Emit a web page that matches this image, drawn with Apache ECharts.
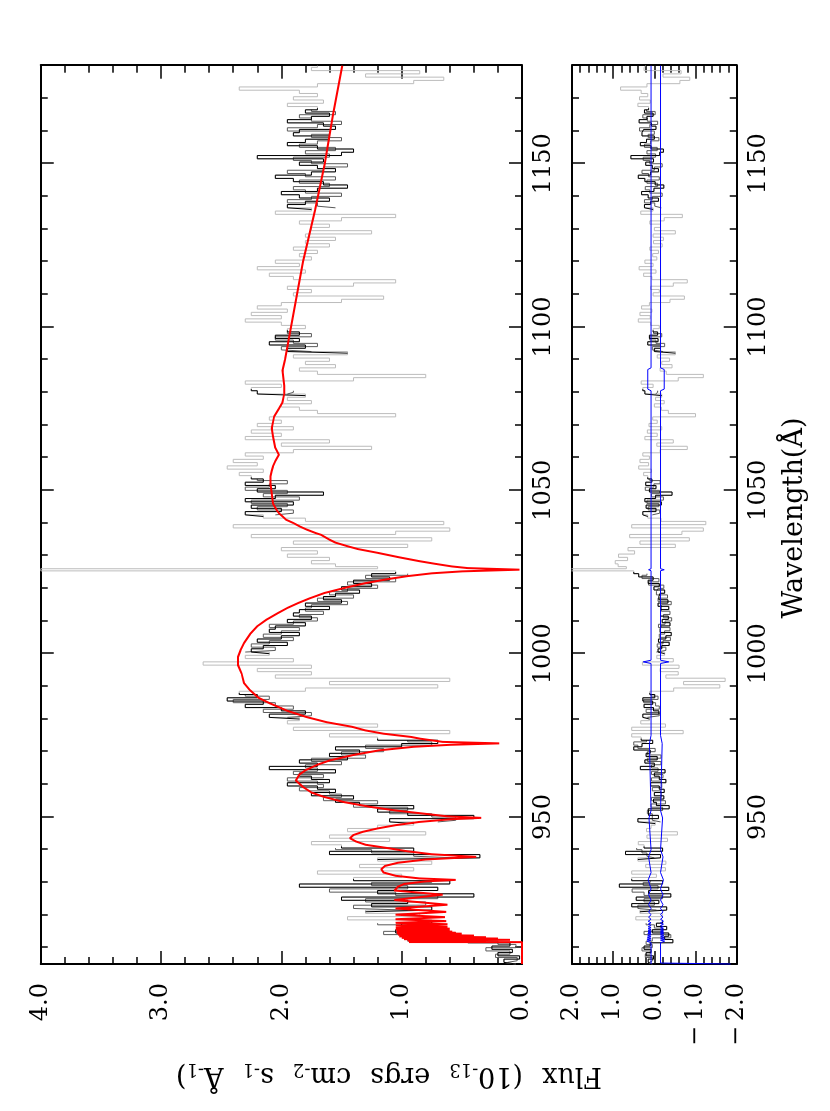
<!DOCTYPE html>
<html>
<head>
<meta charset="utf-8">
<script src="https://cdn.jsdelivr.net/npm/echarts@6/dist/echarts.min.js"></script>
<style>
html,body{margin:0;padding:0;background:#fff;width:830px;height:1111px;overflow:hidden;}
#wrap{position:absolute;left:0;top:0;width:1111px;height:830px;transform-origin:0 0;transform:translateY(1111px) rotate(-90deg);background:#fff;}
</style>
</head>
<body>
<div id="wrap"></div>
<script>
// ---- data (wavelength in Å, flux in 1e-13 erg/cm2/s/Å) ----
const waveMajorTicks = [950, 1000, 1050, 1100, 1150];
const waveMinorTicks = [910,920,930,940,960,970,980,990,1010,1020,1030,1040,1060,1070,1080,1090,1110,1120,1130,1140,1160,1170];

// observed spectrum (whole range)
const fluxData = [
[905,0.05],[906,0.15],[907,0.02],[908,0.20],[909,0.08],[910,0.25],[911,0.10],[912,0.45],[913,0.75],[914,0.55],
[915,1.05],[916,0.70],[917,1.00],[918,0.75],[919,1.45],[920,0.85],[921,1.30],[922,0.75],[923,1.25],[924,0.95],
[925,1.50],[926,0.40],[927,1.20],[928,0.70],[929,1.85],[930,0.60],[931,1.40],[932,1.00],[933,1.70],[934,0.90],
[935,1.35],[936,0.75],[937,1.20],[938,0.35],[939,1.60],[940,0.90],[941,1.50],[942,1.75],[943,1.10],[944,1.60],
[945,0.80],[946,1.45],[947,1.20],[948,0.90],[949,1.10],[950,0.40],[951,0.95],[952,1.20],[953,0.90],[954,1.35],
[955,1.55],[956,1.40],[957,1.75],[958,1.55],[959,1.70],[960,1.95],[961,1.60],[962,1.75],[963,1.85],[964,1.55],
[965,2.10],[966,1.70],[967,1.85],[968,1.45],[969,1.60],[970,1.35],[971,1.55],[972,1.00],[973,0.70],[974,1.20],
[975,1.60],[976,0.60],[977,1.90],[978,1.20],[979,1.95],[980,1.85],[981,2.10],[982,1.80],[983,2.00],[984,2.30],
[985,2.15],[986,2.45],[987,2.20],[988,2.35],[989,1.80],[990,0.70],[991,1.60],[992,0.60],[993,2.05],[994,1.75],
[995,2.20],[996,1.75],[997,2.65],[998,1.90],[999,2.30],[1000,2.10],[1001,2.25],[1002,2.15],[1003,1.95],[1004,2.20],
[1005,2.00],[1006,1.85],[1007,2.10],[1008,2.05],[1009,1.80],[1010,1.95],[1011,1.75],[1012,1.90],[1013,1.85],[1014,1.60],
[1015,1.80],[1016,1.50],[1017,1.65],[1018,1.55],[1019,1.35],[1020,1.50],[1021,1.25],[1022,1.40],[1023,1.10],[1024,1.25],
[1025,1.05],[1025.7,4.00],[1026.3,1.20],[1027,1.55],[1028,1.75],[1029,1.60],[1030,1.95],[1031,1.70],[1032,2.00],[1033,0.95],
[1034,1.90],[1035,0.75],[1036,2.25],[1037,1.05],[1038,0.60],[1039,2.40],[1040,0.65],[1041,1.80],[1042,2.15],[1043,2.30],
[1044,2.00],[1045,2.25],[1046,1.90],[1047,2.30],[1048,2.05],[1049,1.65],[1050,2.20],[1051,2.05],[1052,2.30],[1053,2.15],
[1054,2.25],[1055,2.35],[1056,2.15],[1057,2.45],[1058,2.20],[1059,2.40],[1060,2.15],[1061,2.30],[1062,1.90],[1063,1.25],
[1064,2.00],[1065,1.60],[1066,2.30],[1067,2.00],[1068,2.25],[1069,1.90],[1070,2.20],[1071,2.00],[1072,2.10],[1073,1.05],
[1074,1.70],[1075,1.85],[1076,2.00],[1077,1.75],[1078,1.95],[1079,1.80],[1080,2.20],[1081,2.25],[1082,2.00],[1083,2.30],
[1084,1.40],[1085,0.80],[1086,1.70],[1087,1.85],[1088,1.55],[1089,1.80],[1090,1.60],[1091,1.90],[1092,1.45],[1093,1.95],
[1094,1.80],[1095,2.10],[1096,1.85],[1097,2.05],[1098,1.85],[1099,1.95],[1100,1.80],[1101,2.00],[1102,2.30],[1103,2.00],
[1104,2.25],[1105,1.95],[1106,2.20],[1107,2.00],[1108,1.50],[1109,1.15],[1110,1.90],[1111,1.75],[1112,1.95],[1113,1.40],
[1114,1.05],[1115,1.90],[1116,2.10],[1117,1.80],[1118,2.20],[1119,1.85],[1120,2.05],[1121,1.75],[1122,1.85],[1123,1.70],
[1124,1.90],[1125,1.60],[1126,1.80],[1127,1.55],[1128,1.80],[1129,1.25],[1130,1.75],[1131,1.60],[1132,1.85],[1133,1.50],
[1134,1.05],[1135,2.05],[1136,1.75],[1137,1.95],[1138,1.80],[1139,1.60],[1140,1.85],[1141,2.00],[1142,1.70],[1143,1.45],
[1144,1.65],[1145,1.90],[1146,2.05],[1147,1.75],[1148,1.55],[1149,1.70],[1150,1.85],[1151,1.65],[1152,2.20],[1153,1.50],
[1154,1.40],[1155,1.70],[1156,1.95],[1157,1.80],[1158,1.60],[1159,1.90],[1160,1.85],[1161,1.55],[1162,1.65],[1163,1.95],
[1164,1.75],[1165,1.60],[1166,1.80],[1167,1.70],[1168,1.95],[1169,1.65],[1170,1.90],[1171,1.70],[1172,1.85],[1173,2.35],
[1174,1.70],[1175,0.90],[1176,0.65],[1177,1.30],[1178,0.85],[1179,1.75],[1180,1.70]
];

// second exposure, fitted windows only (dark grey)
const flux2Data = [
[905.5,0.12],[906.5,0.04],[907.5,0.22],[908.5,0.10],[909.5,0.30],[910.5,0.05],[911.5,0.20],[912.5,0.95],[913.5,0.60],[914.5,1.15],[915.5,0.80],[916.5,0.90],[917.5,1.20],
[921.5,0.95],[922.5,1.40],[923.5,0.80],[924.5,1.30],[925.5,0.70],[926.5,1.05],[927.5,1.60],[928.5,0.95],[929.5,1.25],[930.5,0.75],
[937.5,0.55],[938.5,0.90],[939.5,1.25],[940.5,1.55],
[948.5,0.70],[949.5,0.55],[950.5,0.75],[951.5,1.10],[952.5,0.95],[953.5,1.40],[954.5,1.20],[955.5,1.65],[956.5,1.50],[957.5,1.60],[958.5,1.85],[959.5,1.65],[960.5,1.70],
[961.5,1.95],[962.5,1.65],[963.5,1.90],[964.5,1.70],[965.5,1.80],[966.5,1.50],[967.5,1.75],[968.5,1.30],[969.5,1.50],[970.5,1.15],[971.5,1.30],[972.5,0.75],[973.5,0.95],
[980.5,1.95],[981.5,1.75],[982.5,2.15],[983.5,1.90],[984.5,2.05],[985.5,2.40],[986.5,2.10],[987.5,2.30],
[1000.5,2.30],[1001.5,2.05],[1002.5,2.25],[1003.5,2.10],[1004.5,1.90],[1005.5,2.15],[1006.5,2.00],[1007.5,1.85],[1008.5,2.10],[1009.5,1.90],[1010.5,1.70],[1011.5,1.85],[1012.5,1.65],
[1013.5,1.80],[1014.5,1.75],[1015.5,1.45],[1016.5,1.70],[1017.5,1.40],[1018.5,1.60],[1019.5,1.45],[1020.5,1.20],[1021.5,1.45],[1022.5,1.05],[1023.5,1.30],[1024.5,0.95],
[1042.5,2.05],[1043.5,1.90],[1044.5,2.20],[1045.5,1.95],[1046.5,2.25],[1047.5,1.85],[1048.5,2.15],[1049.5,1.95],[1050.5,2.30],[1051.5,2.10],[1052.5,1.95],[1053.5,2.20],
[1079.5,1.95],[1080.5,1.90],
[1092.5,1.75],[1093.5,2.00],[1094.5,1.70],[1095.5,1.90],[1096.5,2.05],[1097.5,1.75],[1098.5,1.95],
[1136.5,1.55],[1137.5,1.70],[1138.5,1.95],[1139.5,1.75],[1140.5,1.50],[1141.5,1.80],[1142.5,1.90],[1143.5,1.60],[1144.5,1.85],[1145.5,1.55],[1146.5,1.80],
[1147.5,1.95],[1148.5,1.65],[1149.5,1.45],[1150.5,1.75],[1151.5,1.90],[1152.5,1.60],[1153.5,1.80],[1154.5,1.55],[1155.5,1.85],[1156.5,1.70],[1157.5,1.50],
[1158.5,1.75],[1159.5,1.60],[1160.5,1.95],[1161.5,1.70],[1162.5,1.50],[1163.5,1.75],[1164.5,1.85],[1165.5,1.55],[1166.5,1.75]
];

// residuals (data - model)
const residData = [
[905,0.05],[906,0.15],[907,0.02],[908,0.20],[909,0.08],[910,0.25],[911,0.10],[912,-0.45],[913,-0.25],[914,-0.35],
[915,0.05],[916,-0.30],[917,-0.05],[918,-0.20],[919,0.45],[920,-0.20],[921,0.35],[922,-0.30],[923,0.55],[924,-0.11],
[925,0.44],[926,-0.40],[927,0.14],[928,-0.35],[929,0.85],[930,-0.20],[931,0.55],[932,-0.05],[933,0.55],[934,-0.27],
[935,0.21],[936,-0.28],[937,0.40],[938,-0.15],[939,0.70],[940,-0.20],[941,0.25],[942,0.39],[943,-0.32],[944,0.18],
[945,-0.56],[946,0.19],[947,0.08],[948,-0.02],[949,0.40],[950,-0.10],[951,0.14],[952,0.15],[953,-0.36],[954,-0.05],
[955,0.02],[956,-0.23],[957,0.00],[958,-0.24],[959,-0.12],[960,0.09],[961,-0.28],[962,-0.12],[963,0.00],[964,-0.26],
[965,0.34],[966,0.00],[967,0.23],[968,-0.07],[969,0.20],[970,0.10],[971,0.50],[972,0.30],[973,0.04],[974,0.32],
[975,0.55],[976,-0.70],[977,0.55],[978,-0.27],[979,0.33],[980,0.12],[981,0.28],[982,-0.11],[983,0.02],[984,0.25],
[985,0.04],[986,0.28],[987,-0.01],[988,0.11],[989,-0.47],[990,-1.59],[991,-0.71],[992,-1.72],[993,-0.28],[994,-0.58],
[995,-0.14],[996,-0.60],[997,0.29],[998,-0.46],[999,-0.06],[1000,-0.25],[1001,-0.09],[1002,-0.18],[1003,-0.36],[1004,-0.10],
[1005,-0.28],[1006,-0.41],[1007,-0.14],[1008,-0.16],[1009,-0.38],[1010,-0.19],[1011,-0.34],[1012,-0.15],[1013,-0.15],[1014,-0.35],
[1015,-0.09],[1016,-0.33],[1017,-0.11],[1018,-0.14],[1019,-0.25],[1020,0.01],[1021,-0.12],[1022,0.15],[1023,0.03],[1024,0.38],
[1025,0.50],[1025.7,3.98],[1026.3,0.68],[1027,0.88],[1028,0.95],[1029,0.65],[1030,0.87],[1031,0.48],[1032,0.64],[1033,-0.51],
[1034,0.35],[1035,-0.85],[1036,0.60],[1037,-0.67],[1038,-1.19],[1039,0.55],[1040,-1.25],[1041,-0.16],[1042,0.16],[1043,0.28],
[1044,-0.04],[1045,0.20],[1046,-0.17],[1047,0.23],[1048,-0.03],[1049,-0.43],[1050,0.12],[1051,-0.04],[1052,0.21],[1053,0.06],
[1054,0.16],[1055,0.26],[1056,0.07],[1057,0.38],[1058,0.14],[1059,0.35],[1060,0.12],[1061,0.28],[1062,-0.14],[1063,-0.80],
[1064,-0.06],[1065,-0.46],[1066,0.23],[1067,-0.07],[1068,0.17],[1069,-0.18],[1070,0.13],[1071,-0.07],[1072,0.04],[1073,-1.00],
[1074,-0.34],[1075,-0.17],[1076,0.00],[1077,-0.24],[1078,-0.03],[1079,-0.18],[1080,0.23],[1081,0.28],[1082,0.03],[1083,0.32],
[1084,-0.58],[1085,-1.19],[1086,-0.29],[1087,-0.14],[1088,-0.43],[1089,-0.18],[1090,-0.37],[1091,-0.07],[1092,-0.51],[1093,0.00],
[1094,-0.15],[1095,0.16],[1096,-0.09],[1097,0.12],[1098,-0.08],[1099,0.03],[1100,-0.12],[1101,0.09],[1102,0.39],[1103,0.10],
[1104,0.35],[1105,0.06],[1106,0.31],[1107,0.12],[1108,-0.38],[1109,-0.73],[1110,0.03],[1111,-0.12],[1112,0.09],[1113,-0.46],
[1114,-0.80],[1115,0.06],[1116,0.26],[1117,-0.04],[1118,0.37],[1119,0.03],[1120,0.23],[1121,-0.06],[1122,0.04],[1123,-0.10],
[1124,0.11],[1125,-0.19],[1126,0.02],[1127,-0.22],[1128,0.03],[1129,-0.51],[1130,0.00],[1131,-0.15],[1132,0.11],[1133,-0.24],
[1134,-0.68],[1135,0.33],[1136,0.03],[1137,0.24],[1138,0.09],[1139,-0.10],[1140,0.15],[1141,0.31],[1142,0.01],[1143,-0.23],
[1144,-0.02],[1145,0.23],[1146,0.39],[1147,0.09],[1148,-0.10],[1149,0.05],[1150,0.21],[1151,0.02],[1152,0.57],[1153,-0.13],
[1154,-0.22],[1155,0.08],[1156,0.34],[1157,0.19],[1158,0.00],[1159,0.30],[1160,0.26],[1161,-0.04],[1162,0.07],[1163,0.37],
[1164,0.18],[1165,0.03],[1166,0.24],[1167,0.14],[1168,0.40],[1169,0.10],[1170,0.36],[1171,0.16],[1172,0.32],[1173,0.82],
[1174,0.18],[1175,-0.62],[1176,-0.86],[1177,-0.21],[1178,-0.65],[1179,0.25],[1180,0.21]
];

const resid2Data = [
[905.5,0.12],[906.5,0.04],[907.5,0.22],[908.5,0.10],[909.5,0.30],[910.5,0.05],[911.5,0.20],[912.5,0.05],[913.5,-0.40],[914.5,0.25],[915.5,-0.20],[916.5,0.00],[917.5,0.20],
[921.5,-0.05],[922.5,0.40],[923.5,0.00],[924.5,0.25],[925.5,-0.20],[926.5,0.25],[927.5,0.54],[928.5,-0.09],[929.5,0.27],[930.5,0.10],
[937.5,0.00],[938.5,0.18],[939.5,0.30],[940.5,0.43],
[948.5,-0.15],[949.5,0.05],[950.5,0.05],[951.5,0.17],[952.5,-0.20],[953.5,0.08],[954.5,-0.27],[955.5,0.07],[956.5,-0.17],[957.5,-0.15],[958.5,0.05],[959.5,-0.18],[960.5,-0.16],
[961.5,0.07],[962.5,-0.21],[963.5,0.07],[964.5,-0.09],[965.5,0.07],[966.5,-0.16],[967.5,0.17],[968.5,-0.16],[969.5,0.17],[970.5,-0.02],[971.5,0.40],[972.5,0.50],[973.5,0.19],
[980.5,0.17],[981.5,-0.12],[982.5,0.20],[983.5,-0.12],[984.5,-0.03],[985.5,0.26],[986.5,-0.09],[987.5,0.08],
[1000.5,-0.05],[1001.5,-0.28],[1002.5,-0.07],[1003.5,-0.21],[1004.5,-0.39],[1005.5,-0.12],[1006.5,-0.25],[1007.5,-0.38],[1008.5,-0.10],[1009.5,-0.26],[1010.5,-0.42],[1011.5,-0.22],[1012.5,-0.38],
[1013.5,-0.17],[1014.5,-0.17],[1015.5,-0.41],[1016.5,-0.09],[1017.5,-0.32],[1018.5,-0.05],[1019.5,-0.09],[1020.5,-0.23],[1021.5,0.14],[1022.5,-0.11],[1023.5,0.30],[1024.5,0.18],
[1042.5,0.05],[1043.5,-0.13],[1044.5,0.15],[1045.5,-0.11],[1046.5,0.18],[1047.5,-0.22],[1048.5,0.07],[1049.5,-0.13],[1050.5,0.22],[1051.5,0.01],[1052.5,-0.14],[1053.5,0.11],
[1079.5,-0.03],[1080.5,-0.08],
[1092.5,-0.21],[1093.5,0.05],[1094.5,-0.25],[1095.5,-0.04],[1096.5,0.11],[1097.5,-0.18],[1098.5,0.02],
[1136.5,-0.17],[1137.5,-0.01],[1138.5,0.24],[1139.5,0.05],[1140.5,-0.19],[1141.5,0.11],[1142.5,0.22],[1143.5,-0.08],[1144.5,0.18],[1145.5,-0.12],[1146.5,0.14],
[1147.5,0.30],[1148.5,0.00],[1149.5,-0.19],[1150.5,0.11],[1151.5,0.27],[1152.5,-0.03],[1153.5,0.18],[1154.5,-0.07],[1155.5,0.24],[1156.5,0.09],[1157.5,-0.11],
[1158.5,0.15],[1159.5,0.00],[1160.5,0.36],[1161.5,0.11],[1162.5,-0.08],[1163.5,0.17],[1164.5,0.28],[1165.5,-0.02],[1166.5,0.19]
];

// wavelength windows used in the fit (drawn black)
const fitRanges = [[905,918],[921,931],[937,941],[948,974],[980,988],[1000,1025],[1042,1054],[1079,1081],[1092,1099],[1136,1167]];

const modelData = [
[905,0.00],[911.70,0.00],[911.72,0.94],[912.0,0.30],[912.2,0.95],[912.4,0.10],[912.6,0.98],[912.8,0.20],[913.0,1.00],[913.2,0.30],
[913.45,1.02],[913.7,0.40],[914.0,1.03],[914.29,0.50],[914.45,1.04],[914.58,0.55],[914.75,1.04],[914.92,0.58],[915.1,1.04],[915.33,0.60],
[915.55,1.05],[915.82,0.60],[916.1,1.05],[916.43,0.62],[916.8,1.05],[917.18,0.62],[917.6,1.05],[918.13,0.63],[918.7,1.05],[919.35,0.64],
[920.1,1.05],[920.96,0.63],[922.0,1.05],[923.15,0.62],[924.6,1.06],[926.23,0.66],[927.5,1.06],[928.7,1.03],[929.5,0.98],[930.3,0.80],
[930.75,0.55],[931.2,0.85],[932.0,1.05],[933.0,1.15],[934.0,1.17],[935.0,1.14],[936.0,1.03],[937.0,0.80],[937.8,0.38],[938.6,0.75],
[939.5,0.95],[940.5,1.12],[941.5,1.30],[942.5,1.38],[943.5,1.43],[944.5,1.40],[945.5,1.32],[946.5,1.20],[947.5,1.05],[948.5,0.85],
[949.3,0.60],[949.74,0.34],[950.2,0.62],[951.0,0.81],[952.0,1.05],[953.1,1.26],[954.5,1.47],[956.1,1.64],[957.5,1.75],[959.2,1.82],
[961.2,1.88],[963.0,1.85],[964.3,1.80],[966.0,1.70],[967.3,1.60],[969.0,1.40],[970.4,1.19],[971.5,0.90],[972.1,0.60],[972.54,0.19],
[973.0,0.66],[974.0,0.85],[974.5,0.92],[975.5,1.15],[976.5,1.30],[977.6,1.41],[979.0,1.62],[980.6,1.79],[982.5,1.95],[984.7,2.09],
[986.5,2.19],[988.8,2.26],[991.0,2.31],[993.9,2.33],[996.5,2.36],[999.0,2.36],[1001.0,2.34],[1003.3,2.31],[1006.0,2.26],[1008.4,2.20],
[1010.5,2.12],[1012.4,2.03],[1014.0,1.95],[1015.5,1.86],[1017.0,1.76],[1018.6,1.64],[1020.0,1.49],[1021.6,1.30],[1022.8,1.12],[1023.7,0.96],
[1024.6,0.75],[1025.2,0.50],[1025.72,0.02],[1026.2,0.45],[1026.7,0.58],[1027.5,0.72],[1028.3,0.85],[1029.5,1.02],[1030.8,1.19],[1032.0,1.36],
[1032.9,1.45],[1034.0,1.55],[1034.9,1.60],[1036.4,1.67],[1037.0,1.72],[1038.0,1.79],[1039.0,1.85],[1040.0,1.90],[1041.0,1.96],[1042.0,1.99],
[1043.0,2.02],[1044.0,2.04],[1046.0,2.07],[1049.0,2.08],[1052.0,2.09],[1054.3,2.09],[1056.0,2.08],[1057.3,2.07],[1059.0,2.05],[1060.9,2.02],
[1063.0,2.05],[1066.5,2.07],[1069.0,2.08],[1072.6,2.06],[1075.0,2.02],[1077.0,1.99],[1079.8,1.975],[1082.0,1.975],[1086.7,1.99],[1090.0,1.97],
[1095.0,1.945],[1100.0,1.92],[1110.0,1.87],[1120.0,1.82],[1135.7,1.72],[1150.0,1.64],[1165.0,1.57],[1180.0,1.494]
];

const errUpper = [
[905,0.08],[911.5,0.08],[912.0,0.18],[912.3,0.08],[912.6,0.18],[912.9,0.08],[913.2,0.17],[913.5,0.08],[913.7,0.16],[914.0,0.08],
[914.3,0.16],[914.45,0.08],[914.6,0.15],[914.75,0.08],[914.9,0.15],[915.1,0.08],[915.3,0.15],[915.55,0.08],[915.8,0.15],[916.1,0.08],
[916.4,0.15],[916.8,0.08],[917.2,0.15],[917.6,0.08],[918.1,0.15],[918.7,0.08],[919.35,0.14],[920.1,0.08],[920.96,0.14],[922,0.08],
[923.15,0.14],[924.6,0.08],[926.2,0.14],[928,0.08],[930.75,0.15],[933,0.08],[937.8,0.14],[940,0.08],[949.7,0.13],[952,0.08],
[972.5,0.12],[975,0.08],[997.0,0.08],[997.5,0.27],[998.0,0.08],[1025.4,0.08],[1025.7,0.14],[1026.0,0.08],[1080.5,0.08],[1081,0.16],
[1087,0.16],[1087.5,0.08],[1180,0.08]
];
const errLower = [
[905,-1.85],[905.3,-0.15],[911.5,-0.15],[912.0,-0.25],[912.3,-0.15],[912.6,-0.25],[912.9,-0.15],[913.2,-0.24],[913.5,-0.15],[913.7,-0.23],
[914.0,-0.15],[914.3,-0.23],[914.45,-0.15],[914.6,-0.22],[914.75,-0.15],[914.9,-0.22],[915.1,-0.15],[915.3,-0.22],[915.55,-0.15],[915.8,-0.22],
[916.1,-0.15],[916.4,-0.22],[916.8,-0.15],[917.2,-0.22],[917.6,-0.15],[918.1,-0.22],[918.7,-0.15],[919.35,-0.21],[920.1,-0.15],[920.96,-0.21],
[922,-0.15],[923.15,-0.21],[924.6,-0.15],[926.2,-0.21],[928,-0.15],[930.75,-0.22],[933,-0.15],[937.8,-0.21],[940,-0.15],[949.7,-0.2],
[952,-0.15],[972.5,-0.19],[975,-0.15],[997.0,-0.15],[997.5,-0.35],[998.0,-0.15],[1025.4,-0.15],[1025.7,-0.24],[1026.0,-0.15],[1080.5,-0.15],
[1081,-0.24],[1087,-0.24],[1087.5,-0.15],[1180,-0.15]
];

// ---- helpers ----
// split a list of [wavelength, value] into the fit windows
function byWindow(arr){
  return fitRanges.map(r => arr.filter(p => p[0] >= r[0] && p[0] <= r[1])).filter(s => s.length > 0);
}

const FONT = 'DejaVu Serif';
const AX = {color:'#000', width:2};
const fmtWave = v => String(v);

function waveAxes(grid, withLabels){
  const base = {type:'value', min:905, max:1180, gridIndex:grid, splitLine:{show:false}, axisPointer:{show:false}};
  return [
    Object.assign({}, base, {position:'bottom', axisLine:{show:true, onZero:false, lineStyle:AX},
      axisTick:{show:true, inside:true, length:13, lineStyle:{color:'#000', width:1.5}, customValues:waveMajorTicks},
      axisLabel:{show:withLabels, customValues:waveMajorTicks, formatter:fmtWave, fontFamily:FONT, fontSize:24, color:'#000', margin:10}}),
    Object.assign({}, base, {position:'bottom', axisLine:{show:false, onZero:false},
      axisTick:{show:true, inside:true, length:7, lineStyle:{color:'#000', width:1.5}, customValues:waveMinorTicks},
      axisLabel:{show:false}}),
    Object.assign({}, base, {position:'top', axisLine:{show:true, onZero:false, lineStyle:AX},
      axisTick:{show:true, inside:true, length:13, lineStyle:{color:'#000', width:1.5}, customValues:waveMajorTicks},
      axisLabel:{show:false}}),
    Object.assign({}, base, {position:'top', axisLine:{show:false, onZero:false},
      axisTick:{show:true, inside:true, length:7, lineStyle:{color:'#000', width:1.5}, customValues:waveMinorTicks},
      axisLabel:{show:false}})
  ];
}
function valAxes(grid, min, max, fmt){
  const base = {type:'value', min:min, max:max, interval:1, gridIndex:grid, splitLine:{show:false},
    axisLine:{show:true, onZero:false, lineStyle:AX},
    axisTick:{show:true, inside:true, length:13, lineStyle:{color:'#000', width:1.5}},
    minorTick:{show:true, splitNumber:5, length:7, lineStyle:{color:'#000', width:1.5}}};
  return [
    Object.assign({}, base, {position:'left', axisLabel:{show:true, formatter:fmt, fontFamily:FONT, fontSize:24, color:'#000', margin:19}}),
    Object.assign({}, base, {position:'right', axisLabel:{show:false}})
  ];
}
const fmtFlux = v => v.toFixed(1);
const fmtRes = v => v < 0 ? '\u2212\u2009' + Math.abs(v).toFixed(1) : v.toFixed(1);

const lineBase = {type:'line', showSymbol:false, symbol:'none', animation:false, silent:true, clip:true};
function mk(name, xi, yi, data, color, width, step){
  const s = Object.assign({}, lineBase, {name:name, xAxisIndex:xi, yAxisIndex:yi, data:data, lineStyle:{color:color, width:width}});
  if (step) s.step = 'middle';
  return s;
}

const series = [];
series.push(mk('flux all', 0, 0, fluxData, '#bcbcbc', 1, true));
byWindow(flux2Data).forEach(seg => series.push(mk('flux fit 2', 0, 0, seg, '#5a5a5a', 1, true)));
byWindow(fluxData).forEach(seg => series.push(mk('flux fit', 0, 0, seg, '#000', 1, true)));
series.push(mk('model', 0, 0, modelData, '#ff0000', 2, false));
series.push(mk('resid all', 4, 2, residData, '#bcbcbc', 1, true));
byWindow(resid2Data).forEach(seg => series.push(mk('resid fit 2', 4, 2, seg, '#5a5a5a', 1, true)));
byWindow(residData).forEach(seg => series.push(mk('resid fit', 4, 2, seg, '#000', 1, true)));
series.push(mk('err +', 4, 2, errUpper, '#0000ff', 1, false));
series.push(mk('err -', 4, 2, errLower, '#0000ff', 1, false));

const option = {
  animation:false,
  backgroundColor:'#fff',
  grid:[
    {left:147, top:40.7, width:898.3, height:481.3, containLabel:false},
    {left:147, top:572, width:898.3, height:164.7, containLabel:false}
  ],
  xAxis: waveAxes(0, true).concat(waveAxes(1, true)),
  yAxis: valAxes(0, 0, 4, fmtFlux).concat(valAxes(1, -2, 2, fmtRes)),
  series: series,
  graphic:[
    {type:'text', x:593, y:795, style:{text:'Wavelength(\u00c5)', font:'27px "DejaVu Serif"', fill:'#000', align:'center', verticalAlign:'middle'}},
    {type:'text', x:36, y:389, rotation:Math.PI/2, style:{
      text:'{m|Flux}{g| }{m|(10}{s|-13}{g| }{m|ergs}{g| }{m|cm}{s|-2}{g| }{m|s}{s|-1}{g| }{m|\u00c5}{s|-1}{m|)}',
      align:'center', verticalAlign:'middle', fill:'#000',
      rich:{
        m:{fontFamily:FONT, fontSize:27, lineHeight:30, fill:'#000', verticalAlign:'middle'},
        g:{fontFamily:FONT, fontSize:27, lineHeight:30, width:19, fill:'#000'},
        s:{fontFamily:FONT, fontSize:18, lineHeight:30, fill:'#000', verticalAlign:'bottom'}
      }}}
  ]
};
const chart = echarts.init(document.getElementById('wrap'), null, {renderer:'canvas', width:1111, height:830});
chart.setOption(option);
</script>
</body>
</html>
